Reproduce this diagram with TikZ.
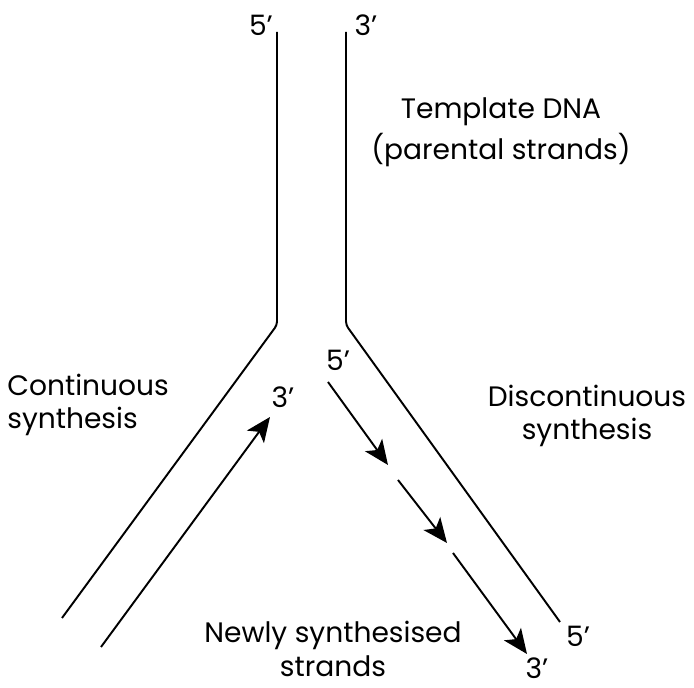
\documentclass[tikz,border=0pt]{standalone}
\usepackage{fontspec}
\setmainfont{Poppins}
\usetikzlibrary{arrows.meta}

\begin{document}
\begin{tikzpicture}[x=0.02cm, y=-0.02cm,
	every node/.style={font=\fontsize{16}{19}\selectfont, inner sep=0pt},
	strand/.style={line width=1.1pt, rounded corners=2pt},
	newstrand/.style={line width=1.1pt, -{Stealth[length=14pt, width=12pt, inset=3.5pt]}}]
	\useasboundingbox (0,0) rectangle (694,688);
	% template strands
	\coordinate (L0) at (277,32);
	\coordinate (L1) at (277,325);
	\coordinate (L2) at (62,618);
	\coordinate (R0) at (346,32);
	\coordinate (R1) at (346,325);
	\coordinate (R2) at (560,622);
	\draw[strand] (L0) -- (L1) -- (L2);
	\draw[strand] (R0) -- (R1) -- (R2);
	% continuous strand
	\coordinate (c0) at (101,647);
	\coordinate (c1) at (270,417);
	\draw[newstrand] (c0) -- (c1);
	% fragments
	\coordinate (d0) at (328,382);
	\coordinate (d1) at (388,465);
	\coordinate (d2) at (398,480);
	\coordinate (d3) at (447,543);
	\coordinate (d4) at (453,553);
	\coordinate (d5) at (527,654);
	\draw[newstrand] (d0) -- (d1);
	\draw[newstrand] (d2) -- (d3);
	\draw[newstrand] (d4) -- (d5);
	% labels
	\node (top5) at (261,25) {5'};
	\node (top3) at (366,25) {3'};
	\node (lead3) at (283,397) {3'};
	\node (lag5) at (338,360) {5'};
	\node (bot5) at (578,636) {5'};
	\node (bot3) at (537,668) {3'};
	\node[align=center] (template) at (501,132) {Template DNA\\[3pt](parental strands)};
	\node[align=left, anchor=west] (cont) at (7,405) {Continuous\\synthesis};
	\node[align=center] (discont) at (587,416) {Discontinuous\\synthesis};
	\node[align=center] (newly) at (333,649) {Newly synthesised\\strands};
\end{tikzpicture}
\end{document}
